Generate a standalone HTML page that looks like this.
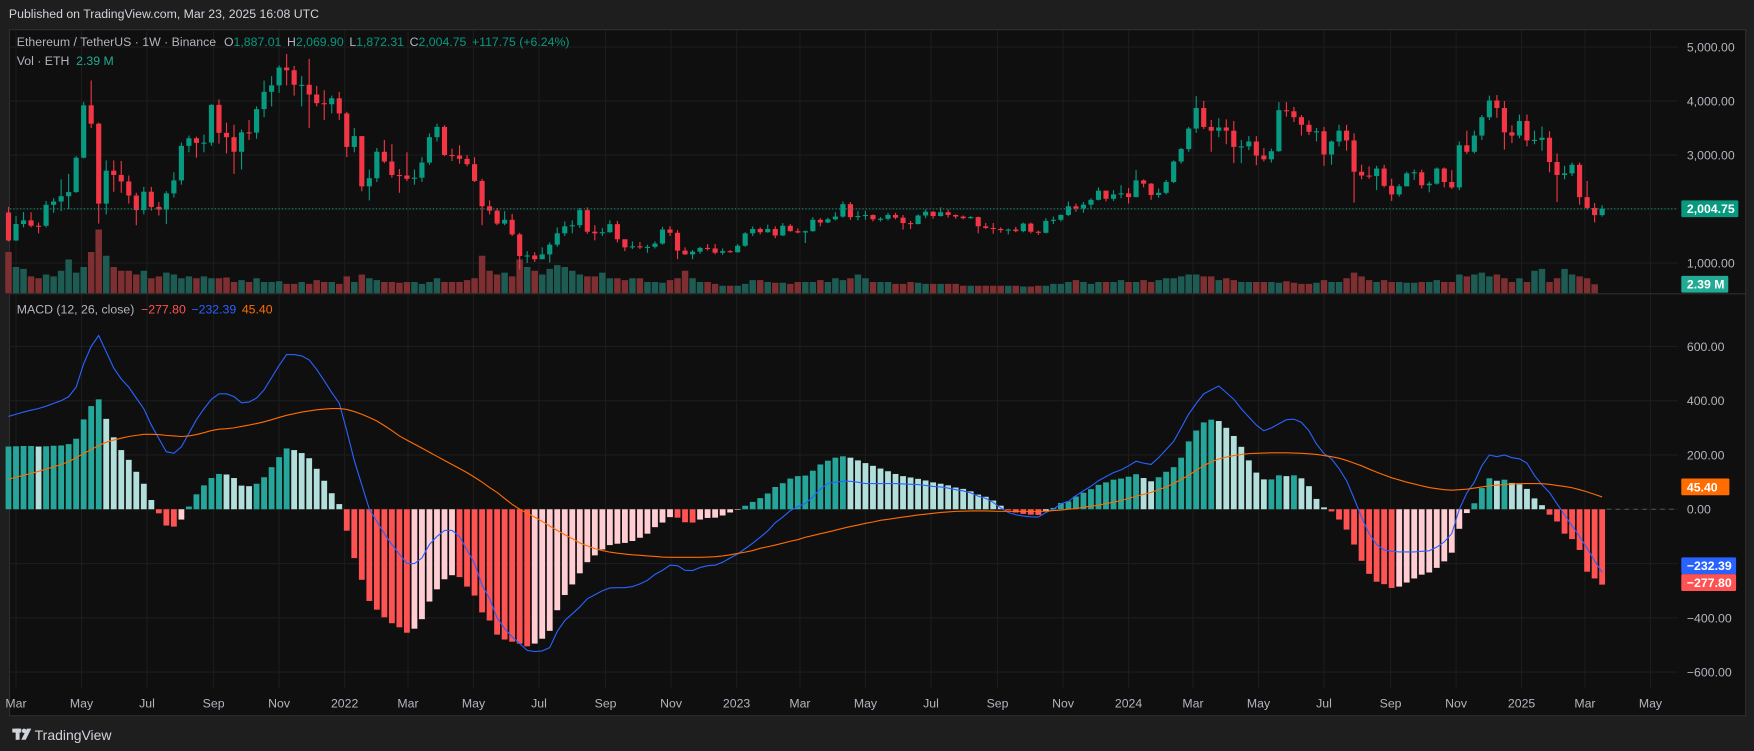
<!DOCTYPE html>
<html><head><meta charset="utf-8"><style>
html,body{margin:0;padding:0;background:#1e1e1e;width:1754px;height:751px;overflow:hidden}
svg{display:block}
text{font-family:"Liberation Sans",sans-serif}
</style></head><body>
<svg id="chart" width="1754" height="751" viewBox="0 0 1568 671" preserveAspectRatio="none" xmlns="http://www.w3.org/2000/svg">
<rect x="0" y="0" width="1568" height="671" fill="#1e1e1e"/>
<text x="8" y="16" font-size="11" fill="#d1d4dc">Published on TradingView.com, Mar 23, 2025 16:08 UTC</text>
<rect x="8.5" y="26.5" width="1552" height="613" fill="#0f0f0f" stroke="#2e2e2e"/>
<g id="grid"></g>
<g id="vol"></g>
<g id="candles"></g>
<g id="hist"></g>
<g id="lines"></g>
<g id="axes"></g>
<line x1="9" y1="262.5" x2="1560" y2="262.5" stroke="#2e2e2e"/>
<text x="15" y="41" font-size="11" fill="#b2b5be">Ethereum / TetherUS · 1W · Binance <tspan dx="4">O</tspan><tspan fill="#089981">1,887.01</tspan><tspan dx="5">H</tspan><tspan fill="#089981">2,069.90</tspan><tspan dx="5">L</tspan><tspan fill="#089981">1,872.31</tspan><tspan dx="5">C</tspan><tspan fill="#089981">2,004.75</tspan><tspan dx="5" fill="#089981">+117.75 (+6.24%)</tspan></text>
<text x="15" y="58" font-size="11" fill="#b2b5be">Vol · ETH <tspan dx="3" fill="#22ab94">2.39 M</tspan></text>
<text x="15" y="280" font-size="11" fill="#b2b5be">MACD (12, 26, close) <tspan dx="3" fill="#ff5252">−277.80</tspan><tspan dx="5" fill="#2962ff">−232.39</tspan><tspan dx="5" fill="#ff6d00">45.40</tspan></text>
<g>
<rect x="11" y="651" width="8" height="3.5" fill="#d1d4dc"/><rect x="14" y="651" width="3.5" height="10" fill="#d1d4dc"/><circle cx="21.5" cy="653" r="2" fill="#d1d4dc"/><polygon points="24,651 28,651 23,661 19,661" fill="#d1d4dc"/>
<text x="31" y="661" font-size="12.5" fill="#d1d4dc">TradingView</text></g>
</svg>
<script>
const closes=[1417,1722,1790,1691,1690,2078,2139,2237,2314,2950,3920,3580,2100,2710,2630,2510,2250,1980,2320,2040,1990,2290,2530,3170,3310,3225,3230,3930,3410,3330,3060,3420,3415,3850,4170,4290,4620,4570,4300,4300,4120,3960,3940,4050,3770,
3150,3350,2420,2570,3060,2880,2630,2620,2560,2580,2860,3330,3520,3000,2990,2930,2830,2520,2050,1970,1730,1800,1530,1130,1140,1070,1160,1340,1550,1680,1700,1980,1580,1550,1570,1720,1440,1290,1310,1290,1300,1360,1620,1560,1230,1160,1210,1280,1270,1190,1220,1200,
1320,1550,1630,1570,1630,1510,1690,1590,1565,1590,1800,1750,1810,1860,2090,1850,1870,1890,1810,1820,1890,1840,1740,1720,1880,1950,1870,1940,1890,1860,1830,1850,1680,1650,1630,1620,1620,1590,1730,1580,1560,1780,1800,1890,2050,2010,2080,2170,2340,2190,2270,2290,
2220,2530,2470,2260,2300,2500,2880,3110,3490,3870,3520,3450,3510,3450,3150,3160,3250,2990,2920,3070,3830,3810,3700,3560,3430,3440,3010,3250,3450,3270,2690,2620,2610,2750,2430,2270,2420,2660,2680,2440,2470,2750,2500,2400,3180,3060,3360,3700,4010,3870,3420,3360,3630,
3270,3280,3320,2870,2630,2660,2820,2220,2020,1887,2004.75];
const firstOpen=1935;
const highs=[2040,1870,1945,1940,1750,2150,2200,2550,2650,2980,3980,4380,3600,2900,2900,2890,2620,2300,2410,2410,2130,2330,2680,3230,3360,3340,3380,3940,4030,3600,3560,3470,3650,3900,4380,4460,4660,4870,4650,4460,4780,4280,4200,4100,4170,
3800,3500,3350,2730,3130,3280,3200,2740,3050,2730,2960,3400,3580,3550,3120,3180,3000,2960,2560,2160,2020,1960,1910,1560,1220,1200,1290,1380,1660,1770,1790,2020,2030,1700,1650,1790,1780,1400,1400,1390,1340,1400,1670,1680,1610,1290,1240,1300,1350,1350,1270,1240,
1350,1570,1680,1660,1710,1680,1740,1720,1640,1600,1850,1830,1840,1940,2140,2130,1960,1970,1900,1850,1930,1930,1890,1780,1900,1990,1960,2030,1990,1900,1880,1870,1860,1740,1740,1660,1640,1670,1750,1750,1600,1830,1860,1900,2140,2100,2130,2200,2400,2340,2350,2440,
2390,2720,2550,2480,2380,2540,2900,3130,3520,4090,4000,3650,3680,3660,3630,3280,3350,3350,3130,3120,3980,3980,3890,3740,3640,3500,3520,3270,3560,3560,3400,2820,2790,2800,2820,2560,2460,2690,2730,2730,2510,2770,2770,2720,3250,3450,3450,3740,4100,4110,4000,3550,3750,
3750,3450,3530,3440,3030,2800,2860,2860,2520,2110,2070];
const lows=[1400,1410,1660,1660,1550,1660,1930,1960,2000,2300,2940,3500,1730,1900,2320,2300,2100,1700,1900,1970,1880,1720,2210,2450,3050,2950,3050,3170,3210,3030,2650,2730,3280,3300,3700,3900,4150,4290,4100,3900,3500,3900,3650,3770,3650,
2960,3050,2330,2160,2500,2850,2580,2300,2520,2450,2500,2820,3250,2980,2890,2840,2790,2500,1700,1900,1700,1700,1500,880,1000,1020,1070,1010,1300,1500,1550,1650,1540,1420,1500,1560,1380,1220,1260,1260,1190,1270,1340,1500,1070,1150,1070,1170,1230,1160,1150,1190,
1190,1300,1500,1530,1560,1460,1500,1580,1550,1370,1580,1680,1740,1790,1840,1800,1790,1800,1770,1770,1790,1810,1620,1630,1720,1830,1820,1860,1840,1820,1810,1820,1550,1630,1540,1560,1530,1570,1570,1550,1520,1550,1720,1770,1870,1950,1930,2010,2160,2140,2150,2200,
2100,2220,2400,2170,2210,2270,2480,2840,3060,3410,3480,3060,3330,3200,2850,2850,3090,2810,2880,2860,3060,3710,3610,3360,3370,3250,2800,2820,3160,3080,2120,2550,2560,2350,2400,2150,2230,2420,2540,2380,2310,2450,2400,2370,2350,3020,3030,3280,3650,3690,3100,3220,3310,
3160,3200,3080,2680,2130,2550,2610,2080,1990,1750,1860];
const volumes=[11,7,6.5,4.5,4,5,4.5,6,9,5.5,7,11,17,10,7,6,6,5,6,4,4.5,5.5,5,4,4.5,4,4.5,4,4,4.2,3,3.5,3,4,3,3,3.2,2.5,2.5,3,2.5,3.5,3,3,2.5,
4.5,3,5,4,3.5,3,3,2.8,3,3,2.5,3,4,3,3,3,3.5,4,10,6,5,5.5,4.5,9,7,6,5,6.5,7.5,7,6,5,4.5,4.5,5.5,4,4,3.5,4,4,3,3,2.8,3.5,4,6,4,3,3,2.5,2,
2,2,2.5,3.5,3.5,3,2.8,2.8,2.5,3,3,3,3.5,3,4,3.5,4,5,4,3,3,3,2.5,2.5,3,2.8,2.5,2.5,2.5,2.5,2.5,2,2,2,2,2,2,2,2,1.8,1.8,2,2,2.5,2.5,3,3.5,3,2.5,3,3,3,
3.5,3,3,3.5,3,3.5,4,4,4.5,5,5,4.5,4.5,3.5,4,3.5,3,3,3,3,3,2.8,3.2,2.8,2.5,2.5,2.8,3.5,3,3,4,5.5,4.5,3.5,3,3.5,3,3,2.8,2.8,3,3,3.5,3,3,5,4.5,5,5.5,4.5,5,4,3,4,
3,6,6.5,3,4,6.5,5,4.5,4,2.39];
const macdLine=[342,350,358,365,371,380,390,400,415,450,536,600,640,580,520,480,450,410,370,310,260,212,206,230,280,330,370,405,425,425,415,392,395,410,440,485,530,570,570,565,550,515,474,430,390,289,180,90,0,-45,-90,-130,-165,-200,-200,-180,-130,-100,-78,-78,-100,-150,-200,-280,-330,-400,-440,-470,-495,-520,-524,-522,-510,-450,-410,-385,-360,-330,-315,-300,-290,-289,-289,-285,-275,-262,-240,-225,-206,-208,-225,-226,-215,-208,-206,-195,-180,-165,-145,-125,-103,-80,-50,-29,-5,10,21,45,75,95,100,103,103,100,95,95,95,95,95,93,92,91,88,84,82,78,72,68,60,48,40,25,5,-12,-20,-25,-28,-29,-12,0,20,29,50,68,85,105,120,135,145,160,177,170,165,190,220,250,300,350,390,425,440,454,430,405,370,340,310,289,300,315,330,332,320,289,240,205,186,150,105,40,-30,-90,-130,-150,-155,-157,-157,-157,-155,-153,-140,-120,-90,0,60,100,160,200,194,200,190,186,170,124,90,62,20,-20,-62,-100,-144,-190,-232.39];
const signalLine=[111,118,125,132,140,148,156,165,175,190,205,220,235,247,255,262,268,272,276,276,275,272,270,268,270,275,282,290,295,297,300,305,310,316,322,330,338,346,352,358,362,366,369,371,371,368,360,350,338,325,308,290,270,255,240,225,210,195,180,165,150,135,118,100,80,62,40,18,0,-15,-29,-45,-62,-78,-94,-108,-124,-135,-145,-152,-158,-162,-165,-168,-170,-172,-174,-176,-177,-177,-177,-177,-177,-176,-175,-172,-168,-163,-158,-152,-144,-138,-132,-125,-118,-112,-103,-97,-90,-84,-77,-70,-64,-58,-52,-47,-41,-37,-33,-29,-25,-21,-18,-15,-12,-10,-8,-7,-6,-6,-6,-7,-8,-8,-8,-8,-8,-8,-7,-5,-3,0,3,7,11,15,21,26,32,40,48,55,62,72,82,95,110,125,144,160,175,185,192,198,202,205,206,207,208,208,208,207,206,204,202,198,194,188,180,170,160,148,137,126,116,108,100,93,86,80,76,72,70,72,74,78,82,86,89,91,93,94,95,95,94,92,88,84,79,72,64,55,45.4];
const histValues=[231,232,233,233,231,232,234,235,240,260,331,380,405,333,265,218,182,138,94,34,-15,-60,-64,-38,10,55,88,115,130,128,115,87,85,94,118,155,192,224,218,207,188,149,105,59,19,-79,-180,-260,-338,-370,-398,-420,-435,-455,-440,-405,-340,-295,-258,-243,-250,-285,-318,-380,-410,-462,-480,-488,-495,-505,-495,-477,-448,-372,-316,-277,-236,-195,-170,-148,-132,-127,-124,-117,-105,-90,-66,-49,-29,-31,-48,-49,-38,-32,-31,-23,-12,-2,13,27,41,58,82,96,113,122,124,142,165,179,190,195,190,180,170,160,150,140,130,122,117,112,106,99,94,88,80,75,66,54,46,32,13,-4,-12,-17,-20,-21,-5,5,23,29,47,61,74,90,99,109,113,120,129,115,103,118,138,155,190,250,290,320,330,325,300,270,230,180,135,110,110,125,122,125,114,85,38,7,-8,-38,-75,-130,-190,-238,-267,-276,-290,-285,-270,-255,-241,-233,-216,-192,-160,-72,-14,22,78,114,105,109,97,92,75,40,15,-20,-45,-90,-110,-150,-230,-255,-277.8];
const priceTicks=[1000,2000,3000,4000,5000];
const priceTickLabels=["1,000.00","","3,000.00","4,000.00","5,000.00"];
const macdTicks=[-600,-400,-200,0,200,400,600];
const macdTickLabels=["−600.00","−400.00","−200.00","0.00","200.00","400.00","600.00"];
const timeLabels=["Mar","May","Jul","Sep","Nov","2022","Mar","May","Jul","Sep","Nov","2023","Mar","May","Jul","Sep","Nov","2024","Mar","May","Jul","Sep","Nov","2025","Mar","May"];
const timeDates=["2021-03-01","2021-05-01","2021-07-01","2021-09-01","2021-11-01","2022-01-01","2022-03-01","2022-05-01","2022-07-01","2022-09-01","2022-11-01","2023-01-01","2023-03-01","2023-05-01","2023-07-01","2023-09-01","2023-11-01","2024-01-01","2024-03-01","2024-05-01","2024-07-01","2024-09-01","2024-11-01","2025-01-01","2025-03-01","2025-05-01"];

const NS="http://www.w3.org/2000/svg";
const X0=7.6, DX=6.72;
const xOf=i=>X0+DX*i;
const yP=p=>283.25-0.04825*p;
const yM=v=>455-0.2425*v;
const yV=v=>262-3.35*v;
const t0=Date.UTC(2021,1,22);
const idxOfDate=s=>{const d=s.split('-').map(Number);return (Date.UTC(d[0],d[1]-1,d[2])-t0)/(7*864e5);};
function mk(tag,attrs,parent){const e=document.createElementNS(NS,tag);for(const k in attrs)e.setAttribute(k,attrs[k]);parent.appendChild(e);return e;}
const G=id=>document.getElementById(id);
const UP="#089981",DN="#f23645";

// grid
const grid=G('grid');
timeDates.forEach((d,k)=>{const x=xOf(idxOfDate(d));
 const l=mk('line',{x1:x,x2:x,y1:27,y2:615,stroke:"#1c1c1c"},grid);
 
 
 const t=mk('text',{x:x,y:632,'font-size':11,fill:"#b2b5be",'text-anchor':'middle'},G('axes'));
 t.textContent=timeLabels[k];
 
 
});
priceTicks.forEach((p,k)=>{const y=yP(p);
 const l=mk('line',{x1:9,x2:1500,y1:y,y2:y,stroke:"#1c1c1c"},grid);
 
 
 if(priceTickLabels[k]){const t=mk('text',{x:1508,y:y+4,'font-size':11,fill:"#b2b5be"},G('axes'));
 t.textContent=priceTickLabels[k];
 
 }
});
macdTicks.forEach((v,k)=>{const y=yM(v);
 const l=mk('line',{x1:9,x2:1500,y1:y,y2:y,stroke:"#1c1c1c"},grid);
 
 
 const t=mk('text',{x:1508,y:y+4,'font-size':11,fill:"#b2b5be"},G('axes'));
 t.textContent=macdTickLabels[k];
 
 
});

// volume + candles
closes.forEach((c,i)=>{
 const o=i?closes[i-1]:firstOpen; const up=c>=o; const x=xOf(i);
 const v=mk('rect',{x:x-2.9,y:yV(volumes[i]),width:5.8,height:262-yV(volumes[i]),fill:up?"#1e5b53":"#7d2f31"},G('vol'));
 
 
 const w=mk('line',{x1:x,x2:x,y1:yP(highs[i]),y2:yP(lows[i]),stroke:up?UP:DN,'stroke-width':1},G('candles'));
 
 
 const top=yP(Math.max(o,c)),bot=yP(Math.min(o,c));
 const b=mk('rect',{x:x-2.3,y:top,width:4.6,height:Math.max(1,bot-top),fill:up?UP:DN},G('candles'));
 
 
});
// last price dotted line
const pl=mk('line',{x1:9,x2:1500,y1:yP(closes[closes.length-1]),y2:yP(closes[closes.length-1]),stroke:UP,'stroke-dasharray':'1 2'},G('axes'));



// histogram
histValues.forEach((h,i)=>{
 const prev=i?histValues[i-1]:h; let col;
 if(h>=0)col=h>=prev?"#26a69a":"#b2dfdb"; else col=h<prev?"#ff5252":"#ffcdd2";
 const y1=yM(Math.max(h,0)),y2=yM(Math.min(h,0));
 const r=mk('rect',{x:xOf(i)-2.6,y:y1,width:5.2,height:Math.max(0.5,y2-y1),fill:col},G('hist'));
 
 
});
const zl=mk('line',{x1:xOf(closes.length-1)+4,x2:1500,y1:yM(0),y2:yM(0),stroke:"#555",'stroke-dasharray':'4 4'},G('axes'));


function path(arr){return arr.map((v,i)=>(i?'L':'M')+xOf(i).toFixed(1)+' '+yM(v).toFixed(1)).join(' ');}
const ml=mk('path',{d:path(macdLine),fill:'none',stroke:'#2962ff','stroke-width':1},G('lines'));


const sl=mk('path',{d:path(signalLine),fill:'none',stroke:'#ff6d00','stroke-width':1},G('lines'));



// axis tags
function tag(name,y,txt,bg,w){
 const g=mk('g',{},G('axes'));
 
 
 mk('rect',{x:1503,y:y-7.5,width:w,height:15,fill:bg,rx:1},g);
 const t=mk('text',{x:1508,y:y+4,'font-size':11,fill:'#fff','font-weight':'bold'},g); t.textContent=txt;
}
tag('last-price-tag',yP(closes[closes.length-1]),'2,004.75',UP,51);
tag('volume-tag',254,'2.39 M','#22ab94',42);
tag('signal-tag',yM(signalLine[signalLine.length-1])-9,'45.40','#ff6d00',43);
tag('macd-tag',yM(-200)+2,'−232.39','#2962ff',49);
tag('hist-tag',yM(-200)+17,'−277.80','#ff5252',49);
</script>
</body></html>
